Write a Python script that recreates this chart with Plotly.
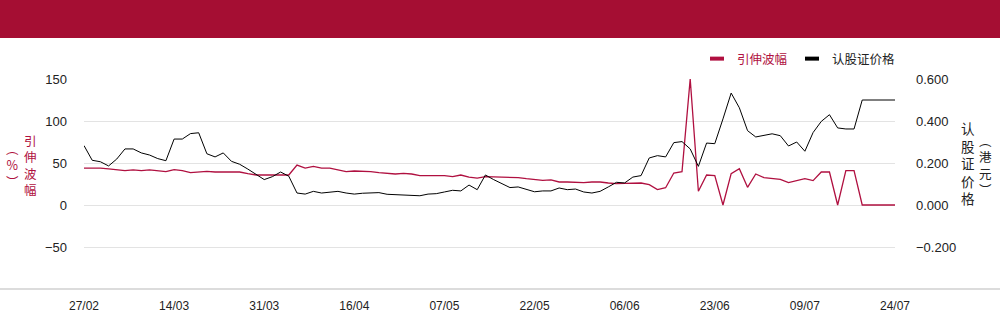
import pandas as pd
import plotly.graph_objects as go

# ---- data ----
holidays = ["2025-04-04", "2025-04-18", "2025-04-21", "2025-05-01", "2025-05-05", "2025-07-01"]
dates = [d for d in pd.bdate_range("2025-02-27", "2025-07-24") if d.strftime("%Y-%m-%d") not in holidays]
date_labels = [d.strftime("%d/%m") for d in dates]

implied_vol = [
    44, 44, 44, 43, 41.7, 40.9, 41.7, 40.9, 41.7, 40.9,
    39.7, 42, 40.9, 38.5, 39.3, 40, 39.3, 39.3, 40, 39.3,
    37.3, 35.7, 35.7, 35.7, 35.7, 35.7, 47.6, 44, 46, 44,
    44, 42, 39.7, 40.5, 40.5, 39.7, 38.5, 37.3, 36.9, 37.7,
    36.9, 34.9, 34.9, 34.9, 34.9, 33.7, 35.7, 33.3, 32.1, 33.7,
    33.3, 33.3, 33.3, 32.5, 31.3, 30.2, 29.4, 29.8, 27.4, 27.4,
    26.6, 26.6, 27.4, 27.4, 26.2, 25.4, 25.8, 26.2, 26.2, 24.2,
    18.3, 20.6, 38.1, 39.7, 150, 16.3, 35.7, 34.9, 0, 37.3,
    43.3, 21, 36.9, 32.5, 31.3, 30.6, 26.6, 29, 31.3, 29,
    39.3, 39.3, 0, 40.9, 40.9, 0, 0, 0, 0, 0,
]

warrant_price = [
    0.283, 0.213, 0.206, 0.186, 0.219, 0.267, 0.267, 0.248, 0.238, 0.221,
    0.211, 0.314, 0.314, 0.340, 0.344, 0.244, 0.229, 0.248, 0.208, 0.194,
    0.171, 0.144, 0.121, 0.135, 0.157, 0.137, 0.057, 0.052, 0.065, 0.057,
    0.060, 0.065, 0.057, 0.052, 0.056, 0.056, 0.059, 0.051, 0.049, 0.048,
    0.048, 0.044, 0.052, 0.054, 0.062, 0.070, 0.067, 0.095, 0.073, 0.143,
    0.121, 0.100, 0.083, 0.086, 0.076, 0.063, 0.067, 0.067, 0.081, 0.073,
    0.076, 0.062, 0.057, 0.065, 0.086, 0.108, 0.105, 0.133, 0.140, 0.224,
    0.235, 0.229, 0.297, 0.302, 0.267, 0.184, 0.295, 0.292, 0.410, 0.533,
    0.463, 0.354, 0.324, 0.333, 0.339, 0.330, 0.281, 0.300, 0.256, 0.345,
    0.398, 0.430, 0.367, 0.362, 0.362, 0.500, 0.500, 0.500, 0.500, 0.500,
]

left_ticks = [-50, 0, 50, 100, 150]
right_ticks = [-0.2, 0.0, 0.2, 0.4, 0.6]
tick_step = 11

# ---- style ----
RED = "#B01040"
BANNER = "#A50E33"
FONT = "Liberation Sans, Arial, Noto Sans CJK SC, sans-serif"
CJK = "Noto Sans CJK SC, sans-serif"

W, H = 1000, 324
ML, MR, MT, MB = 84, 105, 79, 35
PH = H - MT - MB


def py(pix):
    return (H - MB - pix) / PH


def px(pix):
    return (pix - ML) / (W - ML - MR)


fig = go.Figure()
fig.add_trace(go.Scatter(x=date_labels, y=implied_vol, mode="lines", name="引伸波幅",
                         line=dict(color=RED, width=1.3), yaxis="y", showlegend=False))
fig.add_trace(go.Scatter(x=date_labels, y=warrant_price, mode="lines", name="认股证价格",
                         line=dict(color="#000000", width=1), yaxis="y2", showlegend=False))
# legend entries
fig.add_trace(go.Scatter(x=[None], y=[None], mode="markers", name=f"<span style='color:{RED}'>引伸波幅</span>",
                         marker=dict(symbol="line-ew", size=10, color=RED, line=dict(color=RED, width=4))))
fig.add_trace(go.Scatter(x=[None], y=[None], mode="markers", name="认股证价格",
                         marker=dict(symbol="line-ew", size=10, color="#000000", line=dict(color="#000000", width=4))))

tickvals = date_labels[::tick_step]

fig.update_layout(
    width=W, height=H,
    margin=dict(l=ML, r=MR, t=MT, b=MB),
    paper_bgcolor="white", plot_bgcolor="white",
    font=dict(family=FONT, size=12, color="#222"),
    xaxis=dict(type="category", range=[0, len(date_labels) - 1], tickmode="array",
               tickvals=tickvals, ticktext=tickvals, showgrid=False, zeroline=False,
               showline=False, ticks="", ticklabelstandoff=8,
               tickfont=dict(size=12, color="#222")),
    yaxis=dict(range=[-100, 150], tickvals=left_ticks, showgrid=True, gridcolor="#e3e3e3",
               gridwidth=1, zeroline=False, showline=False, ticks="",
               ticklabelstandoff=16, tickfont=dict(size=13, color="#222")),
    yaxis2=dict(range=[-0.4, 0.6], tickvals=right_ticks, tickformat=".3f", overlaying="y",
                side="right", showgrid=False, zeroline=False, showline=False, ticks="",
                ticklabelstandoff=20, tickfont=dict(size=13, color="#222")),
    legend=dict(orientation="h", x=px(901), xanchor="right", y=py(59), yanchor="middle",
                font=dict(family=CJK, size=12.5, color="#222"), itemwidth=30,
                bgcolor="rgba(0,0,0,0)"),
    hovermode=False,
)

# banner and bottom rule
fig.add_shape(type="rect", xref="paper", yref="paper", x0=px(0), x1=px(W), y0=py(38), y1=py(0),
              fillcolor=BANNER, line=dict(width=0), layer="below")
fig.add_shape(type="line", xref="paper", yref="paper", x0=px(0), x1=px(W), y0=py(289), y1=py(289),
              line=dict(color="#d0d0d0", width=1.5))

# axis titles (vertical writing, one column per annotation)
fig.add_annotation(text="<br>".join("引伸波幅"), xref="paper", yref="paper", x=px(30), y=py(164.5),
                   showarrow=False, xanchor="center", yanchor="middle",
                   font=dict(family=CJK, size=12.5, color=RED))
fig.add_annotation(text="<br>".join(["︵", "%", "︶"]), xref="paper", yref="paper", x=px(12), y=py(164.5),
                   showarrow=False, xanchor="center", yanchor="middle",
                   font=dict(family=CJK, size=12.5, color=RED))
fig.add_annotation(text="<br>".join("认股证价格"), xref="paper", yref="paper", x=px(967.5), y=py(162.5),
                   showarrow=False, xanchor="center", yanchor="middle",
                   font=dict(family=CJK, size=13.5, color="#222"))
fig.add_annotation(text="<br>".join(["︵", "港", "元", "︶"]), xref="paper", yref="paper", x=px(986), y=py(164.5),
                   showarrow=False, xanchor="center", yanchor="middle",
                   font=dict(family=CJK, size=12.5, color="#222"))

fig.write_html("out.html")
